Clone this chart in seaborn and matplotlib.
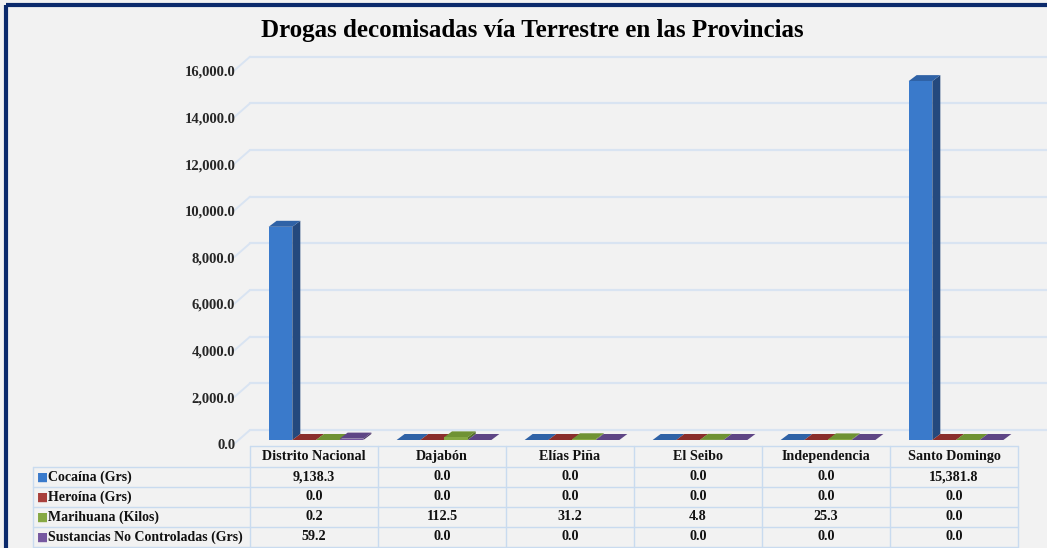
import numpy as np
import pandas as pd
import matplotlib
matplotlib.use("Agg")
import matplotlib.pyplot as plt
import matplotlib.transforms as mtransforms
from matplotlib.patches import Polygon
import seaborn as sns

# data
provincias = ["Distrito Nacional", "Dajabón", "Elías Piña", "El Seibo", "Independencia", "Santo Domingo"]
drogas = ["Cocaína (Grs)", "Heroína (Grs)", "Marihuana (Kilos)", "Sustancias No Controladas (Grs)"]
cocaina = [9138.3, 0.0, 0.0, 0.0, 0.0, 15381.8]
heroina = [0.0, 0.0, 0.0, 0.0, 0.0, 0.0]
marihuana = [0.2, 112.5, 31.2, 4.8, 25.3, 0.0]
sustancias = [59.2, 0.0, 0.0, 0.0, 0.0, 0.0]
yticks = [0, 2000, 4000, 6000, 8000, 10000, 12000, 14000, 16000]

series = [cocaina, heroina, marihuana, sustancias]
front_cols = ["#3a7acb", "#a8403c", "#86a843", "#7658a0"]
side_cols = ["#24497d", "#6e2321", "#54702a", "#4a3566"]
top_cols = ["#2f62a6", "#8a2e2b", "#6f9233", "#5e4585"]

df = pd.DataFrame({
    "Provincia": np.repeat(provincias, len(drogas)),
    "Droga": drogas * len(provincias),
    "Valor": [s[i] for i in range(len(provincias)) for s in series],
})

sns.set_theme(style="white")
plt.rcParams["font.family"] = ["Liberation Serif", "DejaVu Serif"]
plt.rcParams["font.weight"] = "bold"

W, H = 1047, 548
fig = plt.figure(figsize=(W / 100, H / 100), dpi=100, facecolor="#f2f2f2")

ax = fig.add_axes([252 / W, (H - 440) / H, 768 / W, 373.3 / H])
ax.set_facecolor("none")
sns.barplot(data=df, x="Provincia", y="Valor", hue="Droga", hue_order=drogas,
            palette=front_cols, width=0.74, gap=0.0, legend=False, ax=ax,
            saturation=1, edgecolor="none", linewidth=0, err_kws={"linewidth": 0})
ax.set_ylim(0, 16000)
ax.set_xlim(-0.5, len(provincias) - 0.5)
ax.set_xlabel("")
ax.set_ylabel("")
ax.set_xticks([])
ax.set_yticks(yticks)
ax.set_yticklabels([f"{t:,.1f}" for t in yticks], fontsize=10.5, fontweight="bold")
ax.tick_params(axis="y", length=0, pad=12)
for lab in ax.get_yticklabels():
    lab.set_transform(lab.get_transform() + mtransforms.ScaledTranslation(0, -4 / 100, fig.dpi_scale_trans))
for sp in ax.spines.values():
    sp.set_visible(False)

# back-wall gridlines (3D look)
grid_c = "#d9e4f2"
back = mtransforms.offset_copy(ax.transData, fig=fig, x=-2, y=10, units="dots")
front = mtransforms.offset_copy(ax.transData, fig=fig, x=-18, y=-4, units="dots")
for t in yticks:
    ax.plot([-0.5, len(provincias) + 0.2], [t, t], color=grid_c, lw=1.6, transform=back,
            clip_on=False, zorder=0)
    p0 = front.transform((-0.5, t))
    p1 = back.transform((-0.5, t))
    ax.plot([p0[0], p1[0]], [p0[1], p1[1]], color=grid_c, lw=1.4,
            transform=None, clip_on=False, zorder=0)

# 3D faces for each bar
fig.canvas.draw()
to_disp = ax.transData
ddx, ddy = 8, 6
for k, patch in enumerate(ax.patches):
    hi = k // len(provincias)
    x0, y0 = patch.get_x(), patch.get_y()
    w, h = patch.get_width(), patch.get_height()
    (ax0, ay0) = to_disp.transform((x0, y0))
    (ax1, ay1) = to_disp.transform((x0 + w, y0 + h))
    side = [(ax1, ay0), (ax1 + ddx, ay0 + ddy), (ax1 + ddx, ay1 + ddy), (ax1, ay1)]
    top = [(ax0, ay1), (ax0 + ddx, ay1 + ddy), (ax1 + ddx, ay1 + ddy), (ax1, ay1)]
    ax.add_patch(Polygon(side, closed=True, transform=None, facecolor=side_cols[hi],
                         edgecolor="none", zorder=3, clip_on=False))
    ax.add_patch(Polygon(top, closed=True, transform=None, facecolor=top_cols[hi],
                         edgecolor="none", zorder=3, clip_on=False))
    patch.set_zorder(4)

# title
fig.text(532 / W, 1 - 31 / H, "Drogas decomisadas vía Terrestre en las Provincias",
         ha="center", va="center", fontsize=18, fontweight="bold", color="#000000")

# data table
tab = fig.add_axes([0, 0, 1, 1], facecolor="none")
tab.set_xlim(0, W)
tab.set_ylim(H, 0)
tab.axis("off")
line_c = "#c9dbef"
col_x = [250 + i * 128.0 for i in range(len(provincias) + 1)]
row_y = [446, 467, 487, 507, 527, 547]
tab.plot([250, col_x[-1]], [row_y[0], row_y[0]], color=line_c, lw=1)
for yy in row_y[1:]:
    tab.plot([33, col_x[-1]], [yy, yy], color=line_c, lw=1)
tab.plot([33, 33], [row_y[1], row_y[-1]], color=line_c, lw=1)
for xx in col_x:
    tab.plot([xx, xx], [row_y[0], row_y[-1]], color=line_c, lw=1)
for i, name in enumerate(provincias):
    cx = (col_x[i] + col_x[i + 1]) / 2
    tab.text(cx, (row_y[0] + row_y[1]) / 2, name, ha="center", va="center",
             fontsize=10.2, fontweight="bold", color="#111111")
for j, (dname, vals) in enumerate(zip(drogas, series)):
    cy = (row_y[j + 1] + row_y[j + 2]) / 2
    tab.text(37, cy, "■", ha="left", va="center", fontsize=8.5, color=front_cols[j],
             family="DejaVu Sans")
    tab.text(48, cy, dname, ha="left", va="center", fontsize=10, fontweight="bold",
             color="#111111")
    for i, v in enumerate(vals):
        cx = (col_x[i] + col_x[i + 1]) / 2
        tab.text(cx, cy, f"{v:,.1f}", ha="center", va="center", fontsize=10.2,
                 fontweight="bold", color="#111111")

# frame border
tab.plot([6, W], [5, 5], color="#0b2a6b", lw=3, solid_capstyle="butt")
tab.plot([6, 6], [5, H], color="#0b2a6b", lw=3, solid_capstyle="butt")

fig.savefig("out.png", dpi=100, facecolor=fig.get_facecolor())
